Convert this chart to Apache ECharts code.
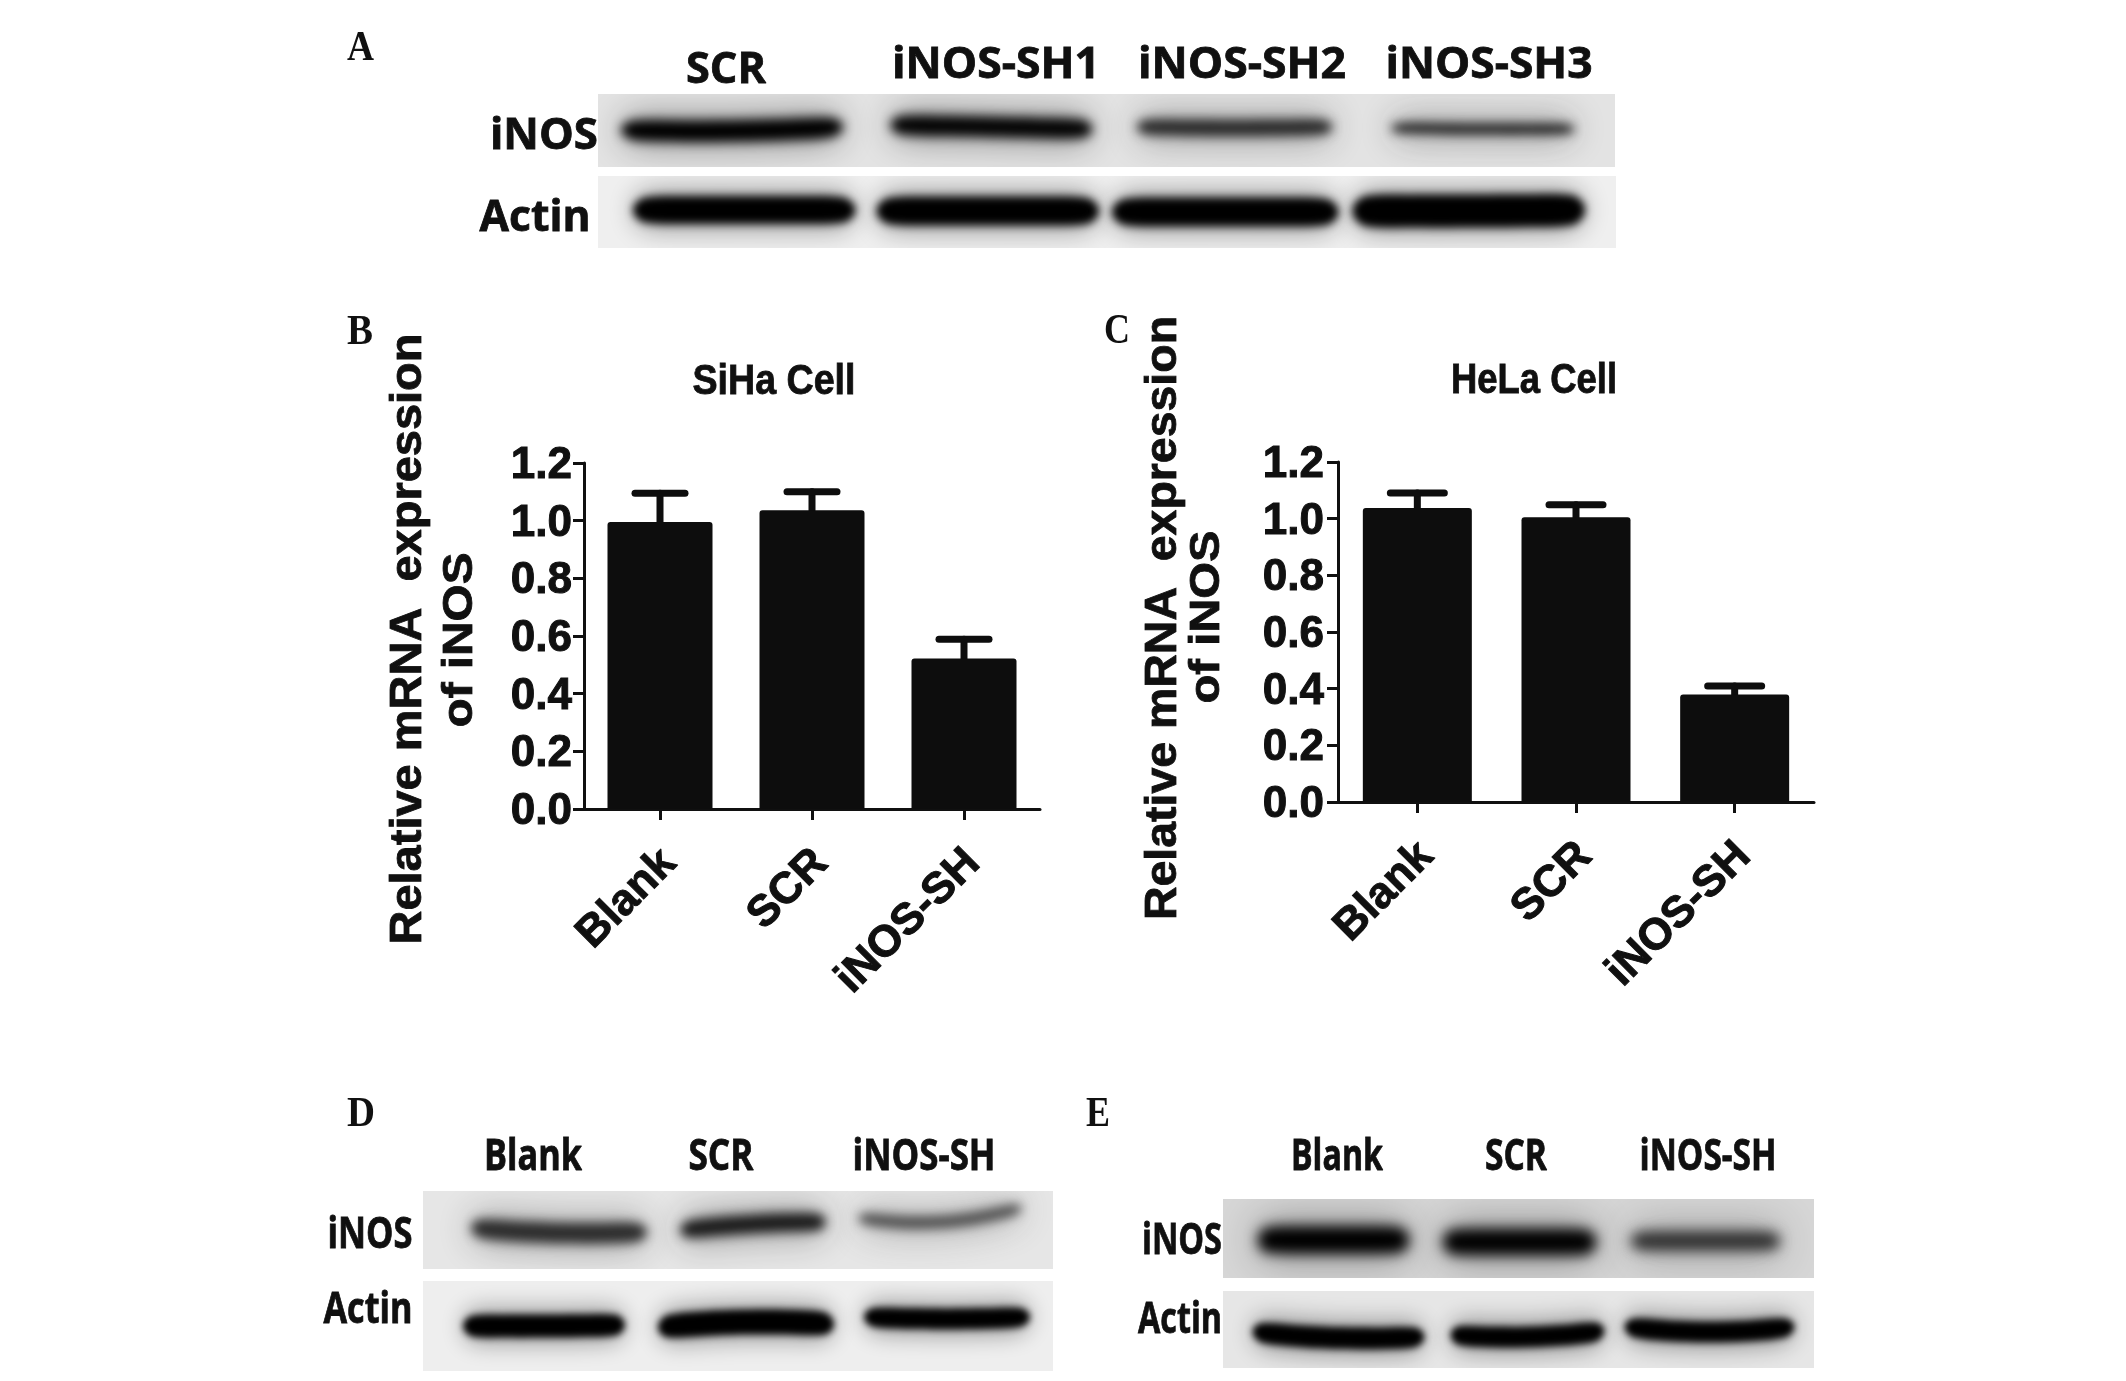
<!DOCTYPE html>
<html><head><meta charset="utf-8">
<style>html,body{margin:0;padding:0;background:#fff}#c{width:2126px;height:1381px}</style>
<script src="https://cdn.jsdelivr.net/npm/echarts@6/dist/echarts.min.js"></script>
</head><body><div id="c"></div>
<script>
// ---- data ----
const barCategories = ['Blank', 'SCR', 'iNOS-SH'];
const yTicks = ['0.0', '0.2', '0.4', '0.6', '0.8', '1.0', '1.2'];
const sihaMean = [0.995, 1.036, 0.522];
const sihaUpper = [1.095, 1.100, 0.589];
const helaMean = [1.038, 1.005, 0.379];
const helaUpper = [1.091, 1.049, 0.409];
const laneA = ['SCR', 'iNOS-SH1', 'iNOS-SH2', 'iNOS-SH3'];
const laneB = ['Blank', 'SCR', 'iNOS-SH'];
// band darkness, 0 = no signal, 1 = saturated
const blotA_iNOS = [1, 0.98, 0.82, 0.88];
const blotA_Actin = [1, 1, 1, 1];
const blotD_iNOS = [0.80, 0.88, 0.66];
const blotD_Actin = [1, 1, 1];
const blotE_iNOS = [1, 0.99, 0.78];
const blotE_Actin = [1, 1, 1];

// ---- layout (pixels) ----
const panelB = {left: 584, right: 1040, top: 463, bottom: 809, barW: 105, capHalf: 25, labelMargin: 12};
const panelC = {left: 1338, right: 1814, top: 462, bottom: 802, barW: 109, capHalf: 27, labelMargin: 14};
const strips = [
 {lanes: laneA, d: blotA_iNOS, x: 598, y: 94, w: 1017, h: 73, bg: '#e3e3e3', blur: 11,
  b: [[7,110,36,37,33,22],[12,100,31,33,35,21],[1,97,33,34,33,17],[-5,91,34,35,35,11]]},
 {lanes: laneA, d: blotA_Actin, x: 598, y: 176, w: 1018, h: 72, bg: '#efefef', blur: 8,
  b: [[19,110,34,34,34,28],[8,110,35,35,35,29],[-9,112,36,36,36,29],[-20,115,35,35,34,33]]},
 {lanes: laneB, d: blotD_iNOS, x: 423, y: 1191, w: 630, h: 78, bg: '#e6e6e6', blur: 11,
  b: [[31,87,37,42,41,21],[15,72,39,33,31,19],[-8,81,27,31,17,13]]},
 {lanes: laneB, d: blotD_Actin, x: 423, y: 1281, w: 630, h: 90, bg: '#eeeeee', blur: 7,
  b: [[16,80,45,45,44,23],[8,87,46,41,43,25],[-1,82,36,38,36,21]]},
 {lanes: laneB, d: blotE_iNOS, x: 1223, y: 1199, w: 591, h: 79, bg: '#d6d6d6', blur: 13,
  b: [[12,75,41,41,41,28],[1,76,43,43,43,27],[-10,74,42,42,42,20]]},
 {lanes: laneB, d: blotE_Actin, x: 1223, y: 1291, w: 591, h: 77, bg: '#e6e6e6', blur: 7,
  b: [[17,85,41,47,46,22],[9,76,44,46,40,21],[-6,84,36,41,36,21]]}
];
const INK = '#101010';
const SANS = '"Liberation Sans", Arial, sans-serif';
const OPEN = '"Open Sans", sans-serif';
const SERIF = '"Liberation Serif", serif';
const SOFT_SHIFT = 4000; // bands are painted only through their blurred shadow

const measure = document.createElement('canvas').getContext('2d');
function fit(text, cx, cy, width, size, family, rot) {
  measure.font = 'bold ' + size + 'px ' + family;
  const sx = width / measure.measureText(text).width;
  return {type: 'text', x: cx, y: cy, rotation: rot || 0, scaleX: sx, silent: true,
    style: {text, fontSize: size, fontWeight: 'bold', fontFamily: family, fill: INK,
      stroke: family === SERIF ? null : INK, lineWidth: 0.8,
      align: 'center', verticalAlign: 'middle'}};
}
const graphics = [
  fit('A', 360.5, 49, 27, 42, SERIF), fit('B', 360, 333, 26, 42, SERIF), fit('C', 1117, 332, 26, 42, SERIF),
  fit('D', 361, 1115, 28, 42, SERIF), fit('E', 1098, 1115, 24, 42, SERIF),
  fit('SCR', 726, 71, 80, 43, OPEN), fit('iNOS-SH1', 996, 66, 208, 43, OPEN),
  fit('iNOS-SH2', 1242, 66, 208, 43, OPEN), fit('iNOS-SH3', 1489, 66, 207, 43, OPEN),
  fit('iNOS', 544, 137, 108, 43, OPEN), fit('Actin', 535, 219, 111, 43, OPEN),
  fit('Blank', 533, 1158, 98, 43, OPEN), fit('SCR', 721, 1158, 65, 43, OPEN), fit('iNOS-SH', 924, 1158, 143, 43, OPEN),
  fit('iNOS', 370, 1236, 85, 43, OPEN), fit('Actin', 368, 1311, 89, 43, OPEN),
  fit('Blank', 1337, 1158, 92, 43, OPEN), fit('SCR', 1516, 1158, 62, 43, OPEN), fit('iNOS-SH', 1708, 1158, 137, 43, OPEN),
  fit('iNOS', 1182, 1242, 80, 43, OPEN), fit('Actin', 1180, 1321, 84, 43, OPEN),
  fit('SiHa Cell', 774, 382, 163, 42, SANS), fit('HeLa Cell', 1534, 381, 166, 42, SANS),
  fit('Relative mRNA  expression', 409, 639, 611, 44, SANS, Math.PI / 2),
  fit('of iNOS', 460, 640, 175, 43, SANS, Math.PI / 2),
  fit('Relative mRNA  expression', 1164, 618, 604, 44, SANS, Math.PI / 2),
  fit('of iNOS', 1207, 617, 173, 43, SANS, Math.PI / 2)
];

const grids = [], xAxes = [], yAxes = [], series = [];
function addBars(p, mean, upper) {
  const k = grids.length;
  grids.push({left: p.left, top: p.top, width: p.right - p.left, height: p.bottom - p.top});
  const line = {show: true, lineStyle: {color: INK, width: 3}};
  const labelBase = {fontFamily: SANS, fontWeight: 'bold', fontSize: 44, color: INK, textBorderColor: INK, textBorderWidth: 1};
  xAxes.push({gridIndex: k, type: 'category', data: barCategories, boundaryGap: true,
    axisLine: line, axisTick: {show: true, alignWithLabel: true, length: 11, lineStyle: {color: INK, width: 3}},
    axisLabel: Object.assign({rotate: 45, interval: 0, margin: 34, verticalAlign: 'top', lineHeight: 32, padding: [0, 3, 0, 0]}, labelBase)});
  yAxes.push({gridIndex: k, type: 'value', min: 0, max: 1.2, interval: 0.2, splitLine: {show: false},
    axisLine: line, axisTick: {show: true, length: 11, lineStyle: {color: INK, width: 3}},
    axisLabel: Object.assign({margin: p.labelMargin, verticalAlign: 'top', lineHeight: 6,
      formatter: (v) => yTicks[Math.round(v / 0.2)]}, labelBase)});
  series.push({type: 'bar', xAxisIndex: k, yAxisIndex: k, data: mean, barWidth: p.barW, silent: true,
    itemStyle: {color: '#0d0d0d', borderRadius: [3, 3, 0, 0]}});
  series.push({type: 'custom', xAxisIndex: k, yAxisIndex: k, silent: true, z: 1,
    data: upper.map((u, i) => [i, u, mean[i]]), encode: {x: 0, y: 1},
    renderItem: (params, api) => {
      const t = api.coord([api.value(0), api.value(1)]);
      const b = api.coord([api.value(0), api.value(2)]);
      const st = {stroke: '#0d0d0d', lineWidth: 7, lineCap: 'round', fill: null};
      return {type: 'group', children: [
        {type: 'line', shape: {x1: t[0], y1: t[1], x2: b[0], y2: b[1]}, style: st},
        {type: 'line', shape: {x1: t[0] - p.capHalf, y1: t[1], x2: t[0] + p.capHalf, y2: t[1]}, style: st}
      ]};
    }});
}
addBars(panelB, sihaMean, sihaUpper);
addBars(panelC, helaMean, helaUpper);

function addStrip(s) {
  const k = grids.length;
  grids.push({left: s.x, top: s.y, width: s.w, height: s.h, show: true, backgroundColor: s.bg, borderWidth: 0});
  xAxes.push({gridIndex: k, type: 'category', data: s.lanes, show: false});
  yAxes.push({gridIndex: k, type: 'value', min: 0, max: s.h, inverse: true, show: false});
  series.push({type: 'custom', xAxisIndex: k, yAxisIndex: k, silent: true, clip: true,
    data: s.d.map((d, i) => [i, d]), encode: {x: 0},
    renderItem: (params, api) => {
      const i = params.dataIndex, [dx, hw, yl, ym, yr, th] = s.b[i];
      const cx = api.coord([i, 0])[0] + dx;
      const centre = (u) => {
        const yy = ym + (yr - yl) / 2 * u + ((yl + yr) / 2 - ym) * u * u;
        return api.coord([i, yy])[1];
      };
      const outline = (half) => {
        const pts = [];
        const us = [-1, -0.9, -0.45, 0, 0.45, 0.9, 1];
        const fs = [0.35, 0.9, 1, 1, 1, 0.9, 0.35];
        us.forEach((u, j) => pts.push([cx + u * hw - SOFT_SHIFT, centre(u) - half * fs[j]]));
        us.slice().reverse().forEach((u, j) => pts.push([cx + u * hw - SOFT_SHIFT, centre(u) + half * fs[6 - j]]));
        return pts;
      };
      const g = Math.round(225 * (1 - api.value(1)));
      const core = 'rgb(' + g + ',' + g + ',' + g + ')';
      const halo = 'rgba(' + g + ',' + g + ',' + g + ',0.32)';
      return {type: 'group', children: [
        {type: 'polygon', shape: {points: outline(th / 2 + 7), smooth: 0.3},
          style: {fill: '#000', shadowBlur: s.blur * 3, shadowColor: halo, shadowOffsetX: SOFT_SHIFT}},
        {type: 'polygon', shape: {points: outline(th / 2), smooth: 0.3},
          style: {fill: '#000', shadowBlur: s.blur, shadowColor: core, shadowOffsetX: SOFT_SHIFT}}
      ]};
    }});
}
strips.forEach(addStrip);

const chart = echarts.init(document.getElementById('c'), null, {renderer: 'canvas'});
chart.setOption({animation: false, backgroundColor: '#ffffff', grid: grids, xAxis: xAxes, yAxis: yAxes,
  series, graphic: {elements: graphics}});
</script></body></html>
